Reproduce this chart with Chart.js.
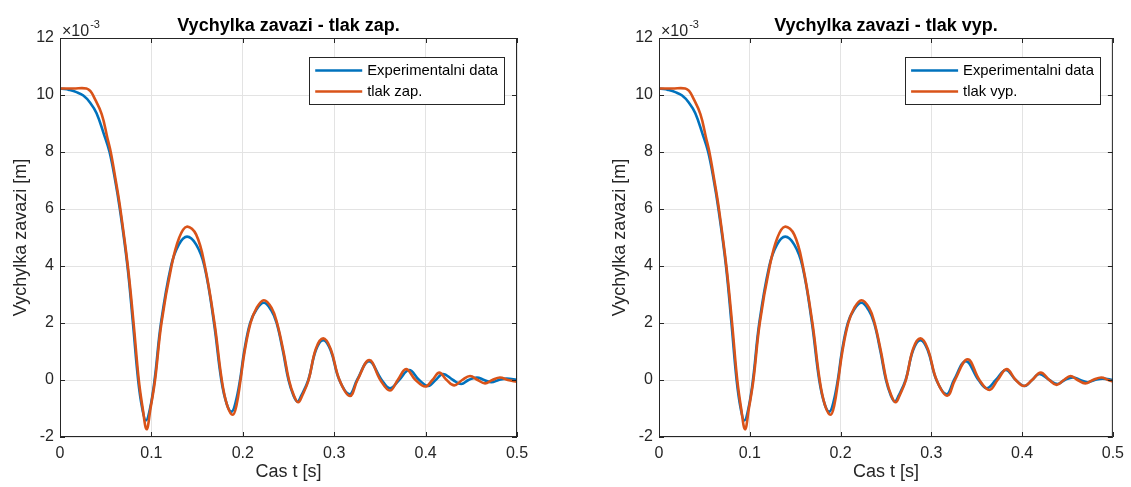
<!DOCTYPE html>
<html>
<head>
<meta charset="utf-8">
<title>Vychylka zavazi</title>
<script src="https://cdn.jsdelivr.net/npm/chart.js@4.4.0/dist/chart.umd.min.js"></script>
<style>
  html, body { margin: 0; padding: 0; background: #fff; }
  body { width: 1131px; height: 487px; position: relative; overflow: hidden; }
  .plot { position: absolute; top: 0; height: 487px; }
  #leftBox { left: 0; width: 560px; }
  #rightBox { left: 599px; width: 532px; }
</style>
</head>
<body>
<div class="plot" id="leftBox"><canvas id="chartZap" width="560" height="487"></canvas></div>
<div class="plot" id="rightBox"><canvas id="chartVyp" width="532" height="487"></canvas></div>
<script>
// Data (y values in units of 1e-3 m, as shown on the axis)
const xTicks = [0, 0.1, 0.2, 0.3, 0.4, 0.5];
const yTicks = [-2, 0, 2, 4, 6, 8, 10, 12];

// Experimentalni data (same in both plots)
const tExp = [0, 0.005, 0.010, 0.018, 0.0255, 0.033, 0.040, 0.048, 0.0542, 0.0604, 0.0655, 0.0738, 0.0798,
  0.0855, 0.090, 0.094, 0.0985, 0.1035, 0.1105, 0.1215, 0.130, 0.139, 0.149, 0.158, 0.1685, 0.1765, 0.1825,
  0.1878, 0.192, 0.197, 0.2015, 0.208, 0.2145, 0.223, 0.231, 0.237, 0.244, 0.250, 0.2555, 0.2597, 0.264,
  0.2717, 0.280, 0.288, 0.296, 0.3056, 0.317, 0.325, 0.338, 0.352, 0.361, 0.371, 0.382, 0.393,
  0.403, 0.411, 0.419, 0.430, 0.439, 0.447, 0.456, 0.464, 0.472, 0.480, 0.4887, 0.5];
const yExp = [10.22, 10.21, 10.18, 10.10, 9.98, 9.73, 9.36, 8.63, 8.0, 7.0, 6.0, 4.0, 2.0,
  0, -1.0, -1.42, -1.0, 0, 2.0, 4.0, 4.75, 5.03, 4.75, 4.0, 2.0, 0, -0.85,
  -1.11, -0.8, 0, 1.0, 2.0, 2.45, 2.71, 2.45, 2.0, 1.0, 0, -0.55, -0.76, -0.55,
  0, 1.05, 1.40, 1.05, 0, -0.50, 0, 0.66, 0, -0.29, 0, 0.35, 0,
  -0.21, 0, 0.21, 0, -0.14, 0, 0.09, 0, -0.08, 0, 0.05, 0.0];

// model - tlak zap.
const tZap = [0, 0.015, 0.029, 0.0335, 0.0365, 0.0456, 0.0518, 0.0555, 0.061, 0.066, 0.0742, 0.0805, 0.0862,
  0.0905, 0.0948, 0.099, 0.104, 0.111, 0.122, 0.1305, 0.1386, 0.149, 0.1585, 0.169, 0.177, 0.183, 0.189,
  0.193, 0.1975, 0.202, 0.2085, 0.215, 0.223, 0.2315, 0.2375, 0.2445, 0.2505, 0.256, 0.2607, 0.265, 0.272,
  0.280, 0.288, 0.296, 0.3058, 0.3173, 0.3255, 0.3384, 0.3505, 0.361, 0.3695,
  0.3786, 0.389, 0.3997, 0.4075, 0.415, 0.423, 0.4314, 0.440, 0.4486, 0.457, 0.465, 0.473, 0.4814, 0.490, 0.5];
const yZap = [10.23, 10.23, 10.23, 10.13, 9.97, 9.33, 8.5, 8.0, 7.0, 6.0, 4.0, 2.0, 0,
  -1.0, -1.73, -1.0, 0, 2.0, 4.0, 5.0, 5.38, 5.1, 4.0, 2.0, 0, -0.9, -1.22,
  -0.9, 0, 1.0, 2.0, 2.52, 2.80, 2.53, 2.0, 1.0, 0, -0.55, -0.78, -0.55, 0,
  1.10, 1.46, 1.10, 0, -0.56, 0, 0.70, 0, -0.37, 0,
  0.38, 0, -0.23, 0, 0.26, 0, -0.19, 0, 0.14, 0, -0.12, 0, 0.09, 0, -0.06];

// model - tlak vyp.
const tVyp = [0, 0.015, 0.029, 0.0335, 0.0365, 0.0456, 0.0518, 0.0555, 0.061, 0.066, 0.0742, 0.0805, 0.0862,
  0.0905, 0.0948, 0.099, 0.104, 0.111, 0.122, 0.1305, 0.1386, 0.149, 0.1585, 0.169, 0.177, 0.183, 0.189,
  0.193, 0.1975, 0.202, 0.2085, 0.215, 0.223, 0.2315, 0.2375, 0.2445, 0.2505, 0.256, 0.2607, 0.265, 0.272,
  0.280, 0.288, 0.296, 0.3058, 0.3176, 0.326, 0.340, 0.353, 0.364, 0.373,
  0.383, 0.393, 0.402, 0.411, 0.4205, 0.430, 0.438, 0.446, 0.4533, 0.461, 0.4697, 0.478, 0.4872, 0.495, 0.5];
const yVyp = [10.23, 10.23, 10.23, 10.13, 9.97, 9.33, 8.5, 8.0, 7.0, 6.0, 4.0, 2.0, 0,
  -1.0, -1.73, -1.0, 0, 2.0, 4.0, 5.0, 5.38, 5.1, 4.0, 2.0, 0, -0.9, -1.22,
  -0.9, 0, 1.0, 2.0, 2.52, 2.80, 2.53, 2.0, 1.0, 0, -0.55, -0.78, -0.55, 0,
  1.10, 1.46, 1.10, 0, -0.55, 0, 0.73, 0, -0.35, 0,
  0.38, 0, -0.21, 0, 0.26, 0, -0.17, 0, 0.14, 0, -0.12, 0, 0.09, 0, -0.05];

const BLUE = '#0072BD';
const ORANGE = '#D95319';
const AXIS = '#262626';
const FONT = '"Liberation Sans", Arial, Helvetica, sans-serif';

const toPoints = (ts, ys) => ts.map((t, i) => ({ x: t, y: ys[i] }));

// frame, inward ticks, title, exponent and legend (MATLAB look)
const matlabDecor = {
    id: 'matlabDecor',
    afterDatasetsDraw(chart, args, opts) {
        const { ctx, chartArea: a, scales: { x, y } } = chart;
        ctx.save();

        // box + ticks
        ctx.strokeStyle = AXIS;
        ctx.lineWidth = 1;
        ctx.strokeRect(a.left + 0.5, a.top + 0.5, a.right - a.left - 1, a.bottom - a.top - 1);
        ctx.beginPath();
        xTicks.forEach(v => {
            const px = Math.round(x.getPixelForValue(v)) + 0.5;
            ctx.moveTo(px, a.bottom); ctx.lineTo(px, a.bottom - 5);
            ctx.moveTo(px, a.top); ctx.lineTo(px, a.top + 5);
        });
        yTicks.forEach(v => {
            const py = Math.round(y.getPixelForValue(v)) + 0.5;
            ctx.moveTo(a.left, py); ctx.lineTo(a.left + 5, py);
            ctx.moveTo(a.right, py); ctx.lineTo(a.right - 5, py);
        });
        ctx.stroke();

        // title
        ctx.fillStyle = '#000';
        ctx.font = 'bold 18px ' + FONT;
        ctx.textAlign = 'center';
        ctx.textBaseline = 'alphabetic';
        ctx.fillText(opts.title, (a.left + a.right) / 2, 31);

        // x10^-3
        ctx.fillStyle = AXIS;
        ctx.textAlign = 'left';
        ctx.font = '16px ' + FONT;
        ctx.fillText('\u00d710', a.left + 2, 36);
        const w = ctx.measureText('\u00d710').width;
        ctx.font = '11px ' + FONT;
        ctx.fillText('-3', a.left + 2 + w + 1, 28);

        // legend
        ctx.font = '14.8px ' + FONT;
        const ds = chart.data.datasets;
        const textW = Math.max(...ds.map(d => ctx.measureText(d.label).width));
        const boxW = 6 + 47 + 5 + textW + 6;
        const boxR = a.right - 13;
        const boxL = boxR - boxW;
        const boxT = a.top + 19;
        const boxH = 47;
        ctx.fillStyle = '#fff';
        ctx.fillRect(boxL, boxT, boxW, boxH);
        ctx.strokeStyle = AXIS;
        ctx.strokeRect(Math.round(boxL) + 0.5, boxT + 0.5, Math.round(boxW), boxH);
        ds.forEach((d, i) => {
            const ry = boxT + 13.5 + i * 21;
            ctx.strokeStyle = d.borderColor;
            ctx.lineWidth = 2.5;
            ctx.beginPath();
            ctx.moveTo(boxL + 6, ry);
            ctx.lineTo(boxL + 53, ry);
            ctx.stroke();
            ctx.fillStyle = '#000';
            ctx.textBaseline = 'middle';
            ctx.fillText(d.label, boxL + 58, ry + 0.5);
        });
        ctx.restore();
    }
};

const makeChart = (id, title, modelLabel, tModel, yModel, padRight) => {
    const ctx = document.getElementById(id).getContext('2d');
    return new Chart(ctx, {
        type: 'line',
        data: {
            datasets: [{
                label: 'Experimentalni data',
                data: toPoints(tExp, yExp),
                borderColor: BLUE,
                borderWidth: 2.6,
                pointRadius: 0,
                tension: 0.4,
                order: 1
            }, {
                label: modelLabel,
                data: toPoints(tModel, yModel),
                borderColor: ORANGE,
                borderWidth: 2.6,
                pointRadius: 0,
                tension: 0.4,
                order: 0
            }]
        },
        options: {
            responsive: false,
            animation: false,
            layout: { padding: { left: 0, right: padRight, top: 38, bottom: 0 } },
            plugins: {
                legend: { display: false },
                tooltip: { enabled: false },
                matlabDecor: { title: title }
            },
            scales: {
                x: {
                    type: 'linear',
                    min: 0,
                    max: 0.5,
                    afterFit: s => { s.height = 50; },
                    afterBuildTicks: s => { s.ticks = xTicks.map(v => ({ value: v })); },
                    grid: { color: '#e3e3e3', drawTicks: false },
                    border: { display: false },
                    ticks: {
                        color: AXIS,
                        font: { family: FONT, size: 16 },
                        padding: 7,
                        maxRotation: 0,
                        callback: v => String(Number(v.toFixed(1)))
                    },
                    title: {
                        display: true,
                        text: 'Cas t [s]',
                        color: AXIS,
                        font: { family: FONT, size: 18 },
                        padding: { top: 0, bottom: 4 }
                    }
                },
                y: {
                    min: -2,
                    max: 12,
                    afterFit: s => { s.width = 60; },
                    afterBuildTicks: s => { s.ticks = yTicks.map(v => ({ value: v })); },
                    grid: { color: '#e3e3e3', drawTicks: false },
                    border: { display: false },
                    ticks: {
                        color: AXIS,
                        font: { family: FONT, size: 16 },
                        padding: 6
                    },
                    title: {
                        display: true,
                        text: 'Vychylka zavazi [m]',
                        color: AXIS,
                        font: { family: FONT, size: 18 },
                        padding: { top: 10, bottom: 0 }
                    }
                }
            }
        },
        plugins: [matlabDecor]
    });
};

makeChart('chartZap', 'Vychylka zavazi - tlak zap.', 'tlak zap.', tZap, yZap, 43);
makeChart('chartVyp', 'Vychylka zavazi - tlak vyp.', 'tlak vyp.', tVyp, yVyp, 15);
</script>
</body>
</html>
